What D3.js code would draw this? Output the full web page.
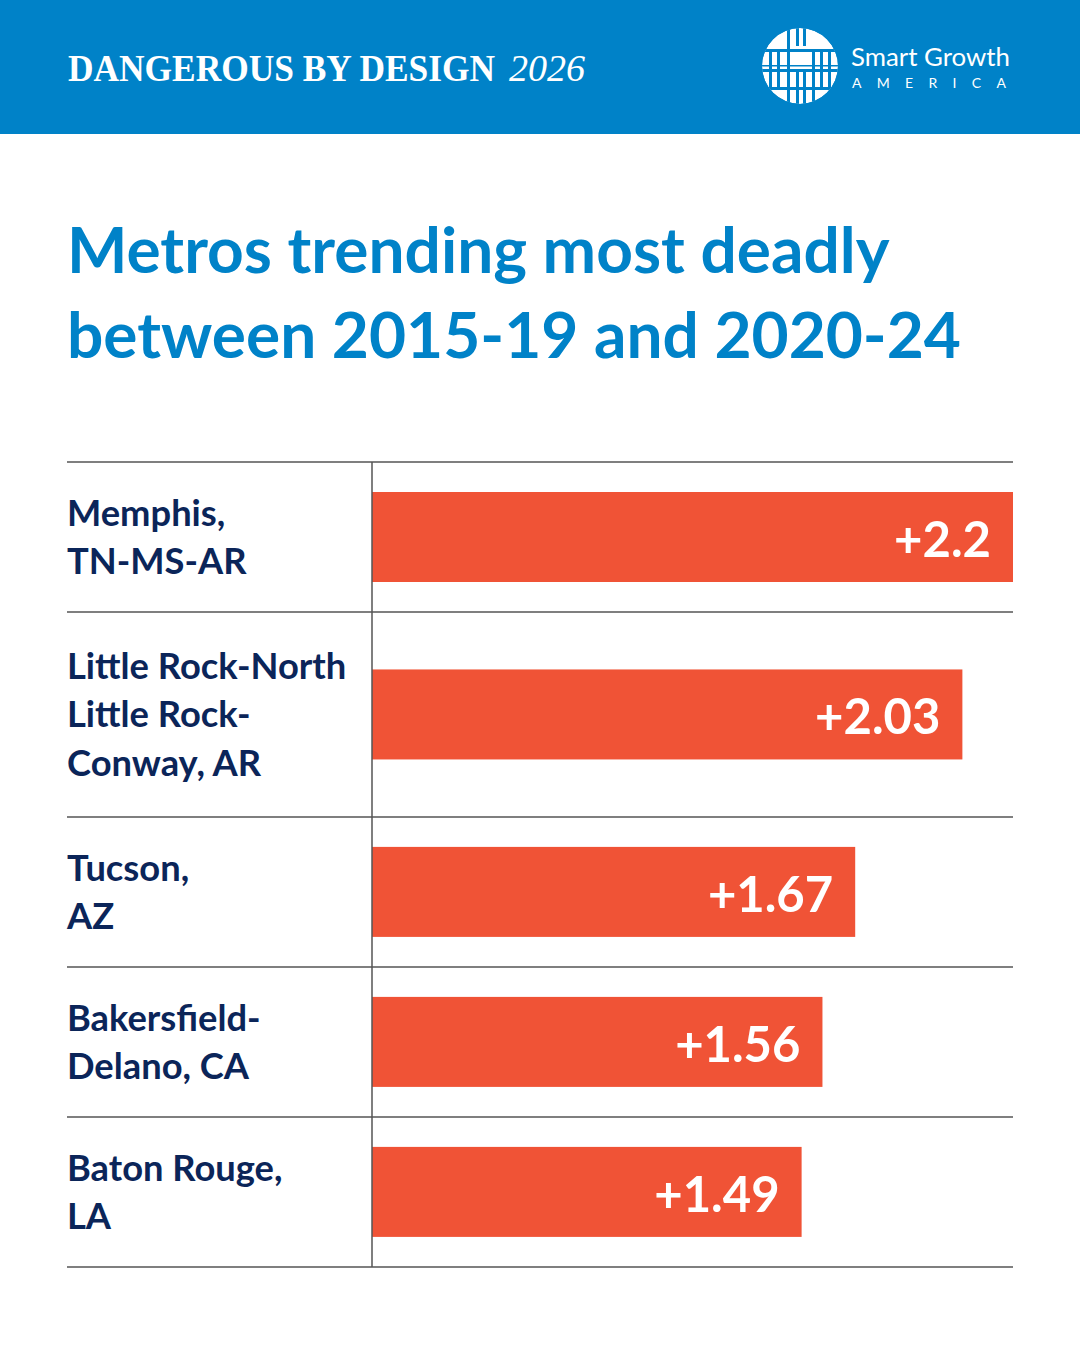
<!DOCTYPE html>
<html>
<head>
<meta charset="utf-8">
<script src="https://cdn.jsdelivr.net/npm/d3@7"></script>
<style>
  html, body { margin: 0; padding: 0; background: #fff; }
  svg { display: block; }
</style>
</head>
<body>
<svg id="drawing_region"></svg>
<script>
// metro names, one entry per wrapped line as printed
const metros = [
  ['Memphis,', 'TN-MS-AR'],
  ['Little Rock-North', 'Little Rock-', 'Conway, AR'],
  ['Tucson,', 'AZ'],
  ['Bakersfield-', 'Delano, CA'],
  ['Baton Rouge,', 'LA']
];
// change in deaths per 100k, 2015-19 vs 2020-24
const changes = [2.2, 2.03, 1.67, 1.56, 1.49];
const valueLabels = ['+2.2', '+2.03', '+1.67', '+1.56', '+1.49'];

const titleLines = ['Metros trending most deadly', 'between 2015-19 and 2020-24'];

const W = 1080, H = 1350;
const BLUE = '#0082c8', NAVY = '#0b2559', RED = '#f05336', RULE = '#555';

const svg = d3.select('#drawing_region')
    .attr('width', W)
    .attr('height', H);

// header band
svg.append('rect')
    .attr('width', W).attr('height', 134)
    .attr('fill', BLUE);

const head = svg.append('text')
    .attr('x', 68).attr('y', 81)
    .attr('fill', '#fff')
    .attr('font-family', '"Liberation Serif", serif')
    .attr('font-size', 37);
head.append('tspan')
    .attr('font-weight', 'bold')
    .attr('textLength', 427)
    .attr('lengthAdjust', 'spacingAndGlyphs')
    .text('DANGEROUS BY DESIGN');
head.append('tspan')
    .attr('x', 509)
    .attr('font-style', 'italic')
    .attr('textLength', 76)
    .attr('lengthAdjust', 'spacingAndGlyphs')
    .text('2026');

// logo
const logo = svg.append('g').attr('transform', 'translate(800,66)');
logo.append('clipPath').attr('id', 'logoclip')
    .append('circle').attr('r', 38);
const lg = logo.append('g').attr('clip-path', 'url(#logoclip)');
lg.append('circle').attr('r', 38).attr('fill', '#fff');
// weave stripes
[[-40, -17, 80, 3], [-40, 3, 80, 3], [-40, 21, 80, 3],
 [-31, -14, 3, 17], [-23, -14, 3, 17], [-13, -40, 3, 80], [-4, -40, 3, 20], [3, -40, 3, 20],
 [-4, 24, 3, 20], [3, 24, 3, 20], [12, -14, 3, 60], [20, -14, 3, 17], [28, -14, 3, 17],
 [-31, 6, 3, 15], [-23, 6, 3, 15], [20, 6, 3, 15], [28, 6, 3, 15], [-4, 6, 3, 15], [3, 6, 3, 15],
 [-40, -1, 80, 1.5]].forEach(r =>
    lg.append('rect').attr('x', r[0]).attr('y', r[1]).attr('width', r[2]).attr('height', r[3]).attr('fill', BLUE));

svg.append('text')
    .attr('x', 851).attr('y', 66)
    .attr('fill', '#fff')
    .attr('font-family', 'Lato, sans-serif')
    .attr('font-size', 25)
    .attr('textLength', 159)
    .attr('lengthAdjust', 'spacingAndGlyphs')
    .text('Smart Growth');
svg.append('text')
    .attr('x', 852).attr('y', 88)
    .attr('fill', '#fff')
    .attr('font-family', 'Lato, sans-serif')
    .attr('font-size', 14)
    .attr('letter-spacing', 15.3)
    .text('AMERICA');

// title
svg.append('text')
    .attr('fill', BLUE)
    .attr('font-family', 'Lato, sans-serif')
    .attr('font-weight', 'bold')
    .attr('font-size', 64)
    .selectAll('tspan')
    .data(titleLines)
    .join('tspan')
    .attr('x', 67)
    .attr('y', (d, i) => 273 + i * 85)
    .text(d => d);

// chart
const left = 67, axisX = 372, right = 1013, chartTop = 462;
const lineH = 48.5, barH = 90;

const rows = metros.map((lines, i) => ({
    lines: lines,
    value: changes[i],
    label: valueLabels[i],
    h: Math.max(barH + 60, lines.length * 68.3)
}));
let acc = chartTop;
rows.forEach(r => { r.y0 = acc; acc += r.h; r.y1 = acc; r.cy = (r.y0 + r.y1) / 2; });
const chartBottom = acc;

const x = d3.scaleLinear()
    .domain([0, d3.max(changes)])
    .range([358, right]);

const g = svg.append('g');

// rules
g.selectAll('line.rule')
    .data([chartTop].concat(rows.map(r => r.y1)))
    .join('line')
    .attr('class', 'rule')
    .attr('x1', left).attr('x2', right)
    .attr('y1', d => d).attr('y2', d => d)
    .attr('stroke', RULE).attr('stroke-width', 1.5);

// bars
g.selectAll('rect.bar')
    .data(rows)
    .join('rect')
    .attr('class', 'bar')
    .attr('x', axisX)
    .attr('y', d => d.cy - barH / 2)
    .attr('width', d => x(d.value) - axisX)
    .attr('height', barH)
    .attr('fill', RED);

g.append('line')
    .attr('x1', axisX).attr('x2', axisX)
    .attr('y1', chartTop).attr('y2', chartBottom)
    .attr('stroke', RULE).attr('stroke-width', 1.5);

// value labels
g.selectAll('text.val')
    .data(rows)
    .join('text')
    .attr('class', 'val')
    .attr('x', d => x(d.value) - 22)
    .attr('y', d => d.cy + 20)
    .attr('text-anchor', 'end')
    .attr('fill', '#fff')
    .attr('font-family', 'Lato, sans-serif')
    .attr('font-weight', 'bold')
    .attr('font-size', 49)
    .text(d => d.label);

// metro labels
g.selectAll('text.metro')
    .data(rows)
    .join('text')
    .attr('class', 'metro')
    .attr('fill', NAVY)
    .attr('font-family', 'Lato, sans-serif')
    .attr('font-weight', 'bold')
    .attr('font-size', 36.3)
    .each(function(d) {
        const n = d.lines.length;
        d3.select(this).selectAll('tspan')
            .data(d.lines)
            .join('tspan')
            .attr('x', left)
            .attr('y', (s, i) => d.cy + 13 + (i - (n - 1) / 2) * lineH)
            .text(s => s);
    });
</script>
</body>
</html>
